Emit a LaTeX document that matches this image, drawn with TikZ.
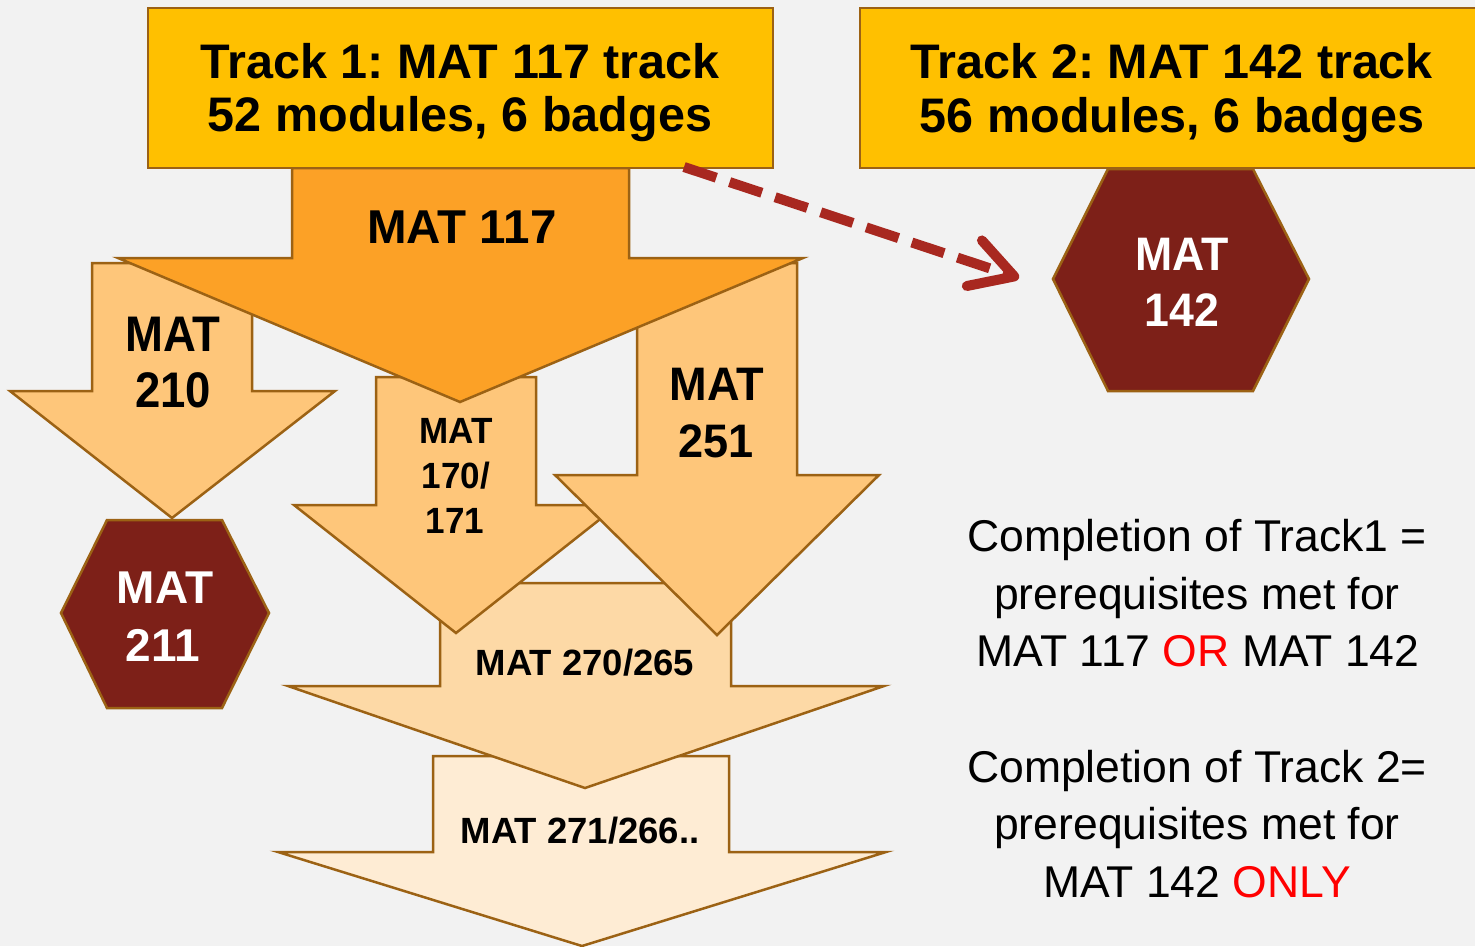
\documentclass[tikz,border=0pt]{standalone}
\usepackage{fontspec}
\usepackage{graphicx}
\setmainfont{Liberation Sans}
\usetikzlibrary{arrows.meta}
\frenchspacing
\definecolor{bg}{RGB}{242,242,242}
\definecolor{edge}{RGB}{156,98,20}
\definecolor{trackyel}{RGB}{255,192,0}
\definecolor{orA}{RGB}{252,161,38}
\definecolor{orB}{RGB}{254,198,122}
\definecolor{orC}{RGB}{253,217,166}
\definecolor{orD}{RGB}{254,236,212}
\definecolor{maroon}{RGB}{125,32,24}
\definecolor{dred}{RGB}{168,40,32}
\definecolor{hired}{RGB}{255,0,0}
\begin{document}
\begin{tikzpicture}[x=1pt,y=-1pt,
  shapeline/.style={draw=edge, line width=2.5pt, line join=miter},
  trackbox/.style={shapeline, fill=trackyel, inner sep=0pt},
  lbl/.style={anchor=base, inner sep=0pt},
  ftrack/.style={font=\fontsize{48.5}{58}\selectfont\bfseries},
  fmid/.style={font=\fontsize{46}{56}\selectfont\bfseries},
  fsmall/.style={font=\fontsize{36.5}{44}\selectfont\bfseries},
  fnote/.style={font=\fontsize{44.5}{56}\selectfont},
  dasharrow/.style={draw=dred, line width=10pt, dash pattern=on 34pt off 14pt,
    -{Straight Barb[length=42pt,width=48pt,round]}}
]
\fill[bg] (0,0) rectangle (1475,946);
\useasboundingbox (0,0) rectangle (1475,946);
\clip (0,0) rectangle (1475,946);

% arrows, back to front
\filldraw[shapeline, fill=orD] (433,756) -- (729,756) -- (729,852) -- (886,852) -- (582,946) -- (278,852) -- (433,852) -- cycle;
\filldraw[shapeline, fill=orC] (440,583) -- (731,583) -- (731,686) -- (884,686) -- (585,788) -- (288,686) -- (440,686) -- cycle;
\filldraw[shapeline, fill=orB] (92,263) -- (252,263) -- (252,391) -- (335,391) -- (172,518) -- (10,391) -- (92,391) -- cycle;
\filldraw[shapeline, fill=orB] (376,377) -- (536,377) -- (536,505) -- (618,505) -- (456,633) -- (294,505) -- (376,505) -- cycle;
\filldraw[shapeline, fill=orB] (637,263) -- (797,263) -- (797,475) -- (879,475) -- (717,635) -- (555,475) -- (637,475) -- cycle;
\filldraw[shapeline, fill=orA] (292,168) -- (629,168) -- (629,258) -- (803,258) -- (460,402) -- (118,258) -- (292,258) -- cycle;

% track boxes
\node[trackbox, minimum width=625pt, minimum height=160pt] (t1) at (460.5,88) {};
\node[trackbox, minimum width=620pt, minimum height=160pt] (t2) at (1170,88) {};

% hexagons
\filldraw[shapeline, fill=maroon] (107,520) -- (222,520) -- (269,613) -- (222,708) -- (107,708) -- (61,613) -- cycle;
\filldraw[shapeline, fill=maroon] (1108,169) -- (1253,169) -- (1309,279) -- (1253,391) -- (1108,391) -- (1053,279) -- cycle;

% dashed connector
\coordinate (dstart) at (684,167);
\coordinate (dend) at (1019,278);
\draw[dasharrow] (dstart) -- (dend);

% texts
\node[lbl, ftrack] (t1a) at (460,78) {Track 1: MAT 117 track};
\node[lbl, ftrack] (t1b) at (460,131) {52 modules, 6 badges};
\node[lbl, ftrack] (t2a) at (1172,78) {Track 2: MAT 142 track};
\node[lbl, ftrack] (t2b) at (1172,132) {56 modules, 6 badges};

\node[lbl, font=\fontsize{47.5}{56}\selectfont\bfseries] (m117) at (462,243) {MAT 117};
\node[lbl, font=\fontsize{50}{58}\selectfont\bfseries] (m210a) at (173,351) {\scalebox{0.91}[1]{MAT}};
\node[lbl, font=\fontsize{50}{58}\selectfont\bfseries] (m210b) at (173,407) {\scalebox{0.91}[1]{210}};
\node[lbl, font=\fontsize{47}{58}\selectfont\bfseries] (m251a) at (717,400) {\scalebox{0.96}[1]{MAT}};
\node[lbl, font=\fontsize{47}{58}\selectfont\bfseries] (m251b) at (716,457) {\scalebox{0.96}[1]{251}};
\node[lbl, fsmall] (m170a) at (456,443) {\scalebox{0.96}[1]{MAT}};
\node[lbl, fsmall] (m170b) at (456,488) {\scalebox{0.96}[1]{170/}};
\node[lbl, fsmall] (m170c) at (455,533) {\scalebox{0.96}[1]{171}};
\node[lbl, fsmall] (m270) at (585,675) {MAT 270/265};
\node[lbl, fsmall] (m271) at (580,843) {MAT 271/266..};

\node[lbl, fmid, text=white] (m211a) at (165,603) {MAT};
\node[lbl, fmid, text=white] (m211b) at (163,661) {211};
\node[lbl, font=\fontsize{47}{58}\selectfont\bfseries, text=white] (m142a) at (1182,270) {\scalebox{0.95}[1]{MAT}};
\node[lbl, font=\fontsize{47}{58}\selectfont\bfseries, text=white] (m142b) at (1182,326) {\scalebox{0.95}[1]{142}};

\node[lbl, fnote] (n1a) at (1197,551) {Completion of Track1 =};
\node[lbl, fnote] (n1b) at (1197,609) {prerequisites met for};
\node[lbl, fnote] (n1c) at (1198,666) {MAT 117 \textcolor{hired}{OR} MAT 142};
\node[lbl, fnote] (n2a) at (1197,782) {Completion of Track 2=};
\node[lbl, fnote] (n2b) at (1197,839) {prerequisites met for};
\node[lbl, fnote] (n2c) at (1197,897) {MAT 142 \textcolor{hired}{ONLY}};
\end{tikzpicture}
\end{document}
